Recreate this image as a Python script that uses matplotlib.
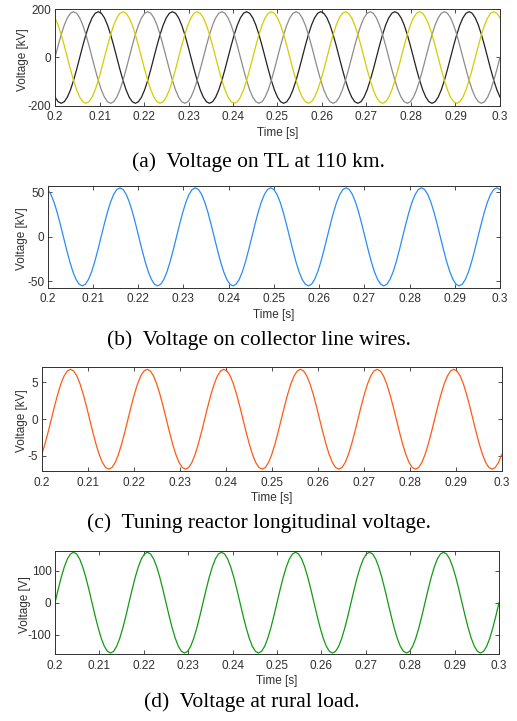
import numpy as np
import matplotlib
matplotlib.use("Agg")
import matplotlib.pyplot as plt

# one 60 Hz cycle sampled every 15 deg (1/1440 s), read off the picture
# window 0.2-0.3 s holds exactly 6 cycles
n_cycles = 6
t = np.linspace(0.2, 0.3, 24 * n_cycles + 1)

# (a) three phases on the TL at 110 km [kV]
tl_black = [-164.5, -183.5, -190, -183.5, -164.5, -134.4, -95, -49.2, 0, 49.2, 95, 134.4,
            164.5, 183.5, 190, 183.5, 164.5, 134.4, 95, 49.2, 0, -49.2, -95, -134.4]
tl_gray = [0, 49.2, 95, 134.4, 164.5, 183.5, 190, 183.5, 164.5, 134.4, 95, 49.2,
           0, -49.2, -95, -134.4, -164.5, -183.5, -190, -183.5, -164.5, -134.4, -95, -49.2]
tl_yellow = [164.5, 134.4, 95, 49.2, 0, -49.2, -95, -134.4, -164.5, -183.5, -190, -183.5,
             -164.5, -134.4, -95, -49.2, 0, 49.2, 95, 134.4, 164.5, 183.5, 190, 183.5]
# (b) collector line wires [kV]
collector = [53.1, 47.6, 38.9, 27.5, 14.2, 0, -14.2, -27.5, -38.9, -47.6, -53.1, -55,
             -53.1, -47.6, -38.9, -27.5, -14.2, 0, 14.2, 27.5, 38.9, 47.6, 53.1, 55]
# (c) tuning reactor longitudinal voltage [kV]
reactor = [-4.81, -3.4, -1.76, 0, 1.76, 3.4, 4.81, 5.89, 6.57, 6.8, 6.57, 5.89,
           4.81, 3.4, 1.76, 0, -1.76, -3.4, -4.81, -5.89, -6.57, -6.8, -6.57, -5.89]
# (d) rural load [V]
rural = [0, 40.6, 78.5, 111.0, 136.0, 151.6, 157, 151.6, 136.0, 111.0, 78.5, 40.6,
         0, -40.6, -78.5, -111.0, -136.0, -151.6, -157, -151.6, -136.0, -111.0, -78.5, -40.6]

xticks = [0.2, 0.21, 0.22, 0.23, 0.24, 0.25, 0.26, 0.27, 0.28, 0.29, 0.3]
xticklabels = ["0.2", "0.21", "0.22", "0.23", "0.24", "0.25", "0.26", "0.27", "0.28", "0.29", "0.3"]

captions = ["(a)  Voltage on TL at 110 km.",
            "(b)  Voltage on collector line wires.",
            "(c)  Tuning reactor longitudinal voltage.",
            "(d)  Voltage at rural load."]


def periodic(cycle):
    c = np.asarray(cycle, dtype=float)
    return np.append(np.tile(c, n_cycles), c[0])


axcol = "#303030"
plt.rcParams["font.family"] = ["Liberation Sans", "DejaVu Sans"]

fig = plt.figure(figsize=(5.17, 7.21), dpi=100)

# [left, bottom, width, height] in figure fractions
boxes = [[0.1064, 0.8534, 0.8607, 0.1337],
         [0.0923, 0.6010, 0.8748, 0.1410],
         [0.0807, 0.3467, 0.8897, 0.1447],
         [0.1064, 0.0929, 0.8588, 0.1429]]
ylims = [(-200, 200), (-57, 57), (-7.05, 7.15), (-160, 161)]
yticks = [[-200, 0, 200], [-50, 0, 50], [-5, 0, 5], [-100, 0, 100]]
ylabels = ["Voltage [kV]", "Voltage [kV]", "Voltage [kV]", "Voltage [V]"]
ylabel_x = [-0.072, -0.057, -0.043, -0.068]
cap_xy = [(0.499, 0.775), (0.501, 0.5284), (0.5, 0.2746), (0.487, 0.0264)]

axes = [fig.add_axes(b) for b in boxes]

axes[0].plot(t, periodic(tl_black), color="#222222", lw=0.9)
axes[0].plot(t, periodic(tl_gray), color="#8c8c8c", lw=0.9)
axes[0].plot(t, periodic(tl_yellow), color="#d6cc00", lw=0.9)
axes[1].plot(t, periodic(collector), color="#2a8cf5", lw=0.9)
axes[2].plot(t, periodic(reactor), color="#ff5a14", lw=0.9)
axes[3].plot(t, periodic(rural), color="#139a13", lw=0.9)

for i, ax in enumerate(axes):
    ax.set_xlim(0.2, 0.3)
    ax.set_ylim(*ylims[i])
    ax.set_xticks(xticks)
    ax.set_xticklabels(xticklabels)
    ax.set_yticks(yticks[i])
    ax.set_yticklabels([str(v) for v in yticks[i]])
    ax.tick_params(direction="in", top=True, right=True, length=3, width=0.6,
                   colors=axcol, labelsize=8.5)
    ax.tick_params(axis="x", pad=4)
    ax.tick_params(axis="y", pad=2.5)
    for s in ax.spines.values():
        s.set_color(axcol)
        s.set_linewidth(0.7)
    ax.set_xlabel("Time [s]", fontsize=8.5, color=axcol, labelpad=2.5)
    ax.set_ylabel(ylabels[i], fontsize=8.5, color=axcol, va="center")
    ax.yaxis.set_label_coords(ylabel_x[i], 0.48)
    fig.text(cap_xy[i][0], cap_xy[i][1], captions[i], ha="center", va="center",
             fontsize=15.5, family=["Liberation Serif", "DejaVu Serif"])

fig.savefig("out.png", dpi=100)
